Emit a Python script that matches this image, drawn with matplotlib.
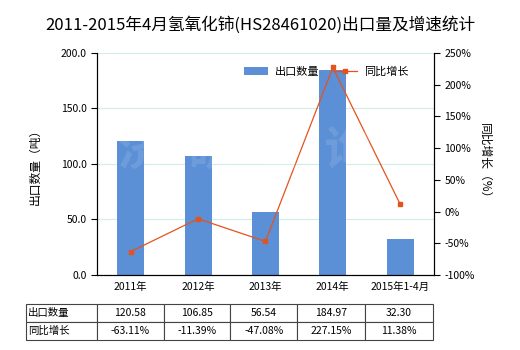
import numpy as np
import matplotlib.pyplot as plt

plt.rcParams['font.family'] = ['Noto Sans CJK SC', 'DejaVu Sans']

# 数据
categories = ['2011年', '2012年', '2013年', '2014年', '2015年1-4月']
export_qty = [120.58, 106.85, 56.54, 184.97, 32.30]
growth = [-63.11, -11.39, -47.08, 227.15, 11.38]
qty_labels = ['120.58', '106.85', '56.54', '184.97', '32.30']
growth_labels = ['-63.11%', '-11.39%', '-47.08%', '227.15%', '11.38%']

bar_color = '#5B8FD6'
line_color = '#E4531E'

fig = plt.figure(figsize=(5.2, 3.5), dpi=100)
ax = fig.add_axes([0.1865, 0.2143, 0.648, 0.6343])
x = np.arange(len(categories))

# 网格线
ax.set_ylim(0, 200)
ax.set_yticks([0, 50, 100, 150, 200])
ax.yaxis.grid(True, color='#D2ECEC', linewidth=0.8)
ax.set_axisbelow(True)
ax.bar(x, export_qty, width=0.4, color=bar_color, label='出口数量', zorder=2)
ax.set_xlim(-0.5, len(categories) - 0.5)
ax.set_xticks(x)
ax.set_xticklabels(categories, fontsize=7.5)
ax.tick_params(axis='x', length=0, pad=5)
ax.tick_params(axis='y', labelsize=7.5, length=4, direction='out')
ax.set_yticklabels(['0.0', '50.0', '100.0', '150.0', '200.0'])
ax.set_ylabel('出口数量（吨）', fontsize=8.5, labelpad=14)
ax.spines['top'].set_visible(False)

ax2 = ax.twinx()
ax2.plot(x, growth, color=line_color, linewidth=0.9, marker='s', markersize=3.5, label='同比增长', zorder=3)
ax2.set_ylim(-100, 250)
ax2.set_yticks(np.arange(-100, 251, 50))
ax2.set_yticklabels([f'{v}%' for v in range(-100, 251, 50)])
ax2.tick_params(axis='y', labelsize=7.5, length=4, direction='out')
ax2.set_ylabel('同比增长（%）', fontsize=8.5, rotation=-90, labelpad=12)
ax2.spines['top'].set_visible(False)

# 水印
fig.text(0.47, 0.57, '济  研  咨  询', fontsize=34, color='white', alpha=0.12,
         ha='center', va='center', fontweight='bold', zorder=5)

h1, l1 = ax.get_legend_handles_labels()
h2, l2 = ax2.get_legend_handles_labels()
ax2.legend(h1 + h2, l1 + l2, ncol=2, frameon=False, fontsize=8,
           loc='center', bbox_to_anchor=(0.68, 0.915), handlelength=2.2,
           columnspacing=1.2, handletextpad=0.6)

fig.suptitle('2011-2015年4月氢氧化铈(HS28461020)出口量及增速统计', fontsize=12, y=0.955)

# 表格
cell_text = [['出口数量'] + qty_labels, ['同比增长'] + growth_labels]
table = ax.table(cellText=cell_text, colWidths=[71, 67, 67, 67, 68, 68],
                 bbox=[-0.211, -0.293, 1.208, 0.162], cellLoc='center')
table.auto_set_font_size(False)
table.set_fontsize(7.5)
for (r, c), cell in table.get_celld().items():
    cell.set_edgecolor('#444444')
    cell.set_linewidth(0.8)
    if c == 0:
        cell.get_text().set_ha('left')
        cell.PAD = 0.03

fig.savefig('out.png', dpi=100)
